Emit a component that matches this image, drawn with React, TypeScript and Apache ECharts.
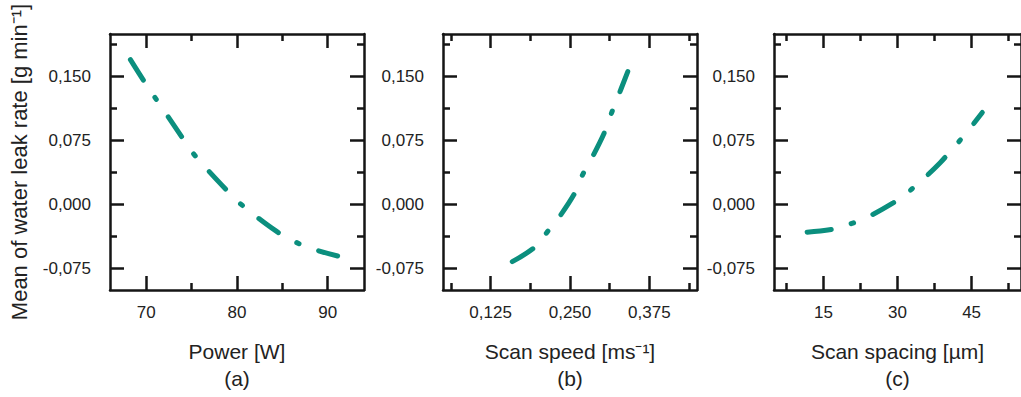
import React, { useEffect, useRef } from "react";
import * as echarts from "echarts";

// ---- data ----
const powerX = [68.25, 69.89, 71.9, 74.02, 75.12, 76.47, 78.77, 80.12, 81.77, 84.25, 86.15, 88.17, 91.09];
const powerY = [0.17, 0.1425, 0.111, 0.0778, 0.0608, 0.0442, 0.018, 0.0035, -0.011, -0.0305, -0.0422, -0.0513, -0.0601];

const speedX = [0.1591, 0.1942, 0.2152, 0.2319, 0.2571, 0.2687, 0.2833, 0.3042, 0.3137, 0.3242, 0.341];
const speedY = [-0.0668, -0.05, -0.0311, -0.0157, 0.013, 0.0334, 0.0531, 0.0846, 0.1042, 0.1238, 0.156];

const spacingX = [11.71, 17.3, 20.57, 24.2, 29.12, 31.74, 34.5, 38.64, 41.06, 43.7, 47.17];
const spacingY = [-0.0322, -0.0283, -0.0224, -0.0138, 0.002, 0.013, 0.0263, 0.0492, 0.0649, 0.0825, 0.1081];

const yMajorTicks = [-0.075, 0, 0.075, 0.15];
const yMinorTicks = [-0.0375, 0.0375, 0.1125, 0.1875];

const powerMajorTicks = [70, 80, 90];
const powerMinorTicks = [75, 85];
const speedMajorTicks = [0.125, 0.25, 0.375];
const speedMinorTicks = [0.0625, 0.1875, 0.3125, 0.4375];
const spacingMajorTicks = [15, 30, 45];
const spacingMinorTicks = [7.5, 22.5, 37.5, 52.5];

const xTitles = ["Power [W]", "Scan speed [ms\u207B\u00B9]", "Scan spacing [\u00B5m]"];
const panelLetters = ["(a)", "(b)", "(c)"];
const yTitle = "Mean of water leak rate [g min\u207B\u00B9]";

const FONT = "Liberation Sans, Arial, sans-serif";
const LINE_COLOR = "#0b8f7e";
const AXIS_COLOR = "#151515";

const commaFmt = (v: number) => {
  if (Math.abs(v) < 1e-9) return "0,000";
  return v.toFixed(3).replace(".", ",");
};
const intFmt = (v: number) => String(Math.round(v));

export default function App() {
  const ref = useRef<HTMLDivElement>(null);

  useEffect(() => {
    if (!ref.current) return;
    const chart = echarts.init(ref.current, null, { renderer: "svg" });

    const panels = [
      { left: 110, xMin: 66, xMax: 94, major: powerMajorTicks, minor: powerMinorTicks, fmt: intFmt, xs: powerX, ys: powerY },
      { left: 443, xMin: 0.05, xMax: 0.45, major: speedMajorTicks, minor: speedMinorTicks, fmt: commaFmt, xs: speedX, ys: speedY },
      { left: 774, xMin: 5, xMax: 55, major: spacingMajorTicks, minor: spacingMinorTicks, fmt: intFmt, xs: spacingX, ys: spacingY },
    ];

    const grids: any[] = [];
    const xAxes: any[] = [];
    const yAxes: any[] = [];
    const series: any[] = [];

    const lineStyle = { color: AXIS_COLOR, width: 2.5 };
    const tickStyle = { color: AXIS_COLOR, width: 2.5 };

    panels.forEach((p, i) => {
      grids.push({ left: p.left, top: 34, width: 254, height: 256, containLabel: false });

      const xBase = { type: "value", gridIndex: i, min: p.xMin, max: p.xMax, splitLine: { show: false } };
      xAxes.push({
        ...xBase,
        position: "bottom",
        axisLine: { show: true, onZero: false, lineStyle },
        axisTick: { show: true, inside: true, length: 14, customValues: p.major, lineStyle: tickStyle },
        axisLabel: { show: true, customValues: p.major, formatter: p.fmt, margin: 14, fontFamily: FONT, fontSize: 17, color: "#222" },
        name: xTitles[i] + "\n" + panelLetters[i],
        nameLocation: "middle",
        nameGap: 48,
        nameTextStyle: { fontFamily: FONT, fontSize: 21, color: "#222", lineHeight: 27 },
      });
      xAxes.push({
        ...xBase,
        position: "bottom",
        axisLine: { show: false, onZero: false },
        axisTick: { show: true, inside: true, length: 7, customValues: p.minor, lineStyle: tickStyle },
        axisLabel: { show: false },
      });
      xAxes.push({
        ...xBase,
        position: "top",
        axisLine: { show: true, onZero: false, lineStyle },
        axisTick: { show: true, inside: true, length: 14, customValues: p.major, lineStyle: tickStyle },
        axisLabel: { show: false },
      });
      xAxes.push({
        ...xBase,
        position: "top",
        axisLine: { show: false, onZero: false },
        axisTick: { show: true, inside: true, length: 7, customValues: p.minor, lineStyle: tickStyle },
        axisLabel: { show: false },
      });

      const yBase = { type: "value", gridIndex: i, min: -0.1, max: 0.2, splitLine: { show: false } };
      yAxes.push({
        ...yBase,
        position: "left",
        axisLine: { show: true, onZero: false, lineStyle },
        axisTick: { show: true, inside: true, length: 14, customValues: yMajorTicks, lineStyle: tickStyle },
        axisLabel: { show: true, customValues: yMajorTicks, formatter: commaFmt, margin: 19, fontFamily: FONT, fontSize: 17, color: "#222" },
        ...(i === 0
          ? {
              name: yTitle,
              nameLocation: "middle",
              nameGap: 80,
              nameRotate: 90,
              nameTextStyle: { fontFamily: FONT, fontSize: 22, color: "#222" },
            }
          : {}),
      });
      yAxes.push({
        ...yBase,
        position: "left",
        axisLine: { show: false, onZero: false },
        axisTick: { show: true, inside: true, length: 7, customValues: yMinorTicks, lineStyle: tickStyle },
        axisLabel: { show: false },
      });
      yAxes.push({
        ...yBase,
        position: "right",
        axisLine: { show: true, onZero: false, lineStyle },
        axisTick: { show: true, inside: true, length: 14, customValues: yMajorTicks, lineStyle: tickStyle },
        axisLabel: { show: false },
      });
      yAxes.push({
        ...yBase,
        position: "right",
        axisLine: { show: false, onZero: false },
        axisTick: { show: true, inside: true, length: 7, customValues: yMinorTicks, lineStyle: tickStyle },
        axisLabel: { show: false },
      });

      series.push({
        type: "line",
        xAxisIndex: i * 4,
        yAxisIndex: i * 4,
        data: p.xs.map((x, k) => [x, p.ys[k]]),
        showSymbol: false,
        smooth: 0.35,
        lineStyle: { color: LINE_COLOR, width: 5, type: [24, 21, 2.5, 21], cap: "round" },
        silent: true,
      });
    });

    chart.setOption({
      animation: false,
      backgroundColor: "#ffffff",
      grid: grids,
      xAxis: xAxes,
      yAxis: yAxes,
      series,
    });

    return () => chart.dispose();
  }, []);

  return (
    <div
      ref={ref}
      style={{ position: "fixed", left: 0, top: 0, width: 1021, height: 397, background: "#fff" }}
    />
  );
}
